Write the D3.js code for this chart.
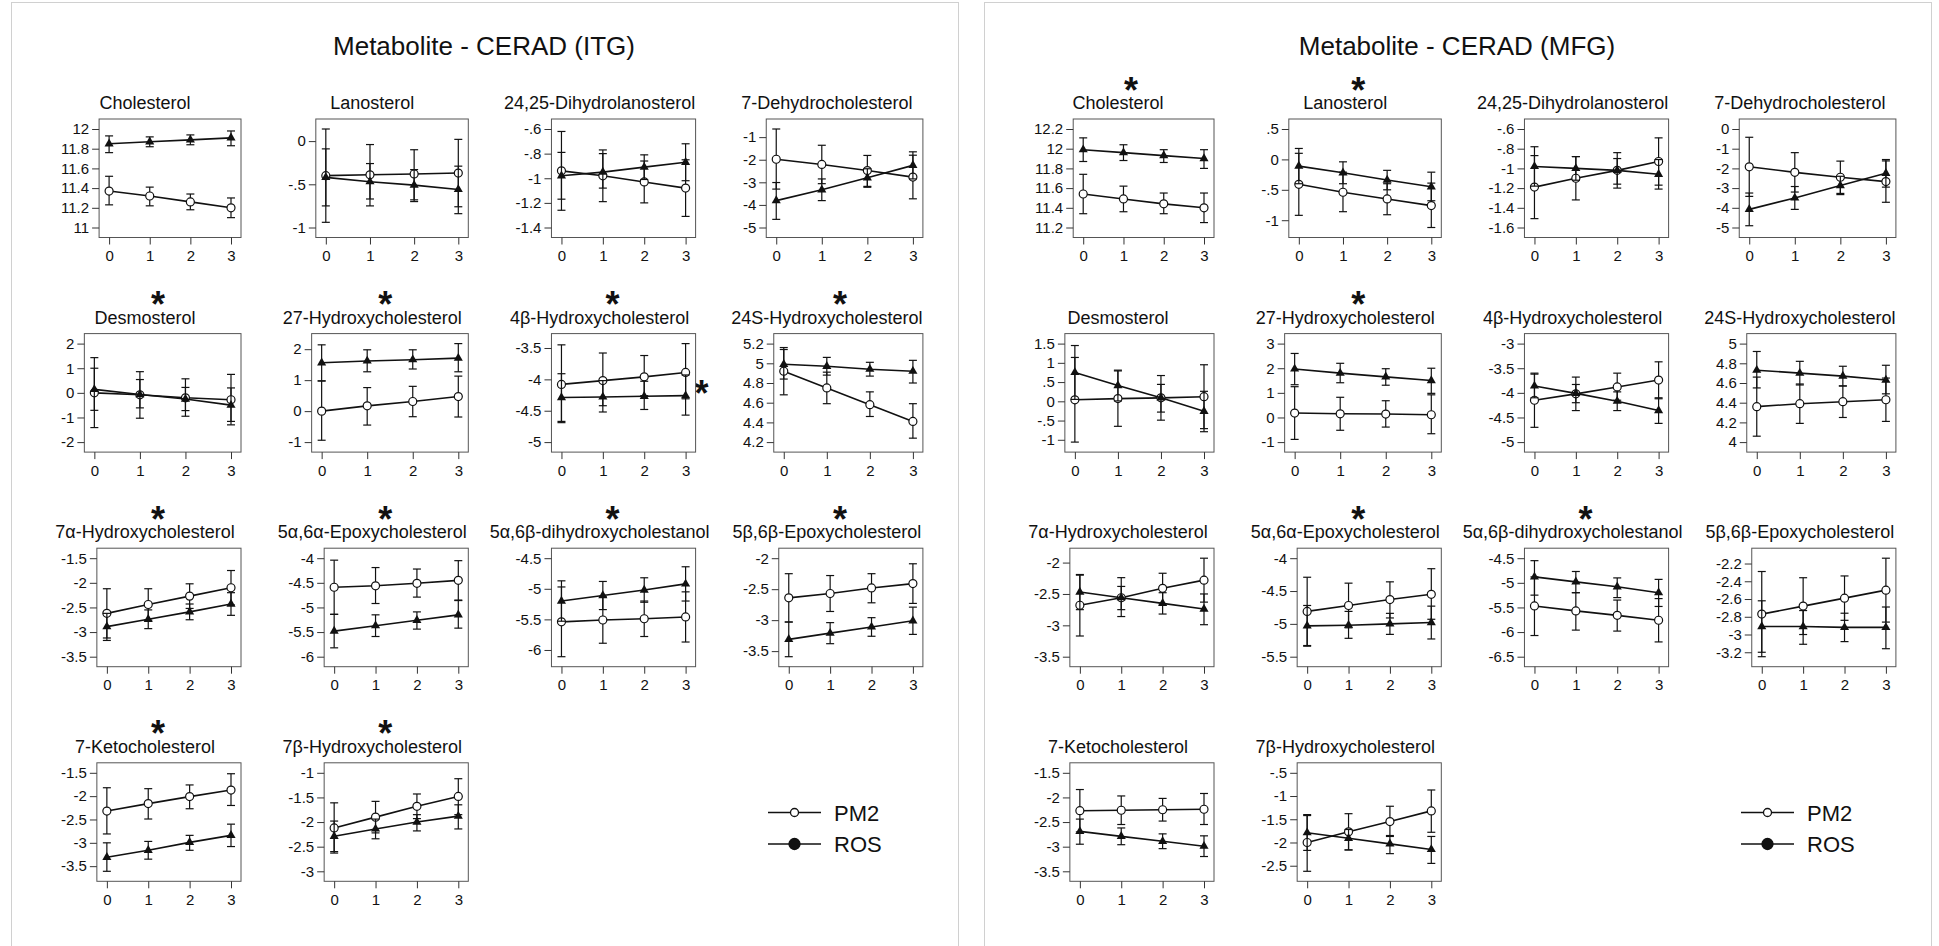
<!DOCTYPE html>
<html>
<head>
<meta charset="utf-8">
<script src="https://cdn.jsdelivr.net/npm/d3@7"></script>
<style>
  body { margin: 0; background: #fff; }
  svg { font-family: "Liberation Sans", Arial, Helvetica, sans-serif; }
</style>
</head>
<body>
<div id="chart"></div>
<script>
// ---- data ----
var metabolites = ["Cholesterol", "Lanosterol", "24,25-Dihydrolanosterol", "7-Dehydrocholesterol",
  "Desmosterol", "27-Hydroxycholesterol", "4β-Hydroxycholesterol", "24S-Hydroxycholesterol",
  "7α-Hydroxycholesterol", "5α,6α-Epoxycholesterol", "5α,6β-dihydroxycholestanol", "5β,6β-Epoxycholesterol",
  "7-Ketocholesterol", "7β-Hydroxycholesterol"];
var timePoints = [0, 1, 2, 3];
var seriesNames = ["PM2", "ROS"];

// ITG
var itgStars = [4, 5, 6, 7, 8, 9, 10, 11, 12, 13];
var itgSideStars = [6];
var itgTicks = [
  [11, 11.2, 11.4, 11.6, 11.8, 12], [-1, -0.5, 0], [-1.4, -1.2, -1, -0.8, -0.6], [-5, -4, -3, -2, -1],
  [-2, -1, 0, 1, 2], [-1, 0, 1, 2], [-5, -4.5, -4, -3.5], [4.2, 4.4, 4.6, 4.8, 5, 5.2],
  [-3.5, -3, -2.5, -2, -1.5], [-6, -5.5, -5, -4.5, -4], [-6, -5.5, -5, -4.5], [-3.5, -3, -2.5, -2],
  [-3.5, -3, -2.5, -2, -1.5], [-3, -2.5, -2, -1.5, -1]
];
var itgPm2Mean = [
  [11.37, 11.32, 11.26, 11.20], [-0.40, -0.39, -0.38, -0.37], [-0.94, -0.98, -1.03, -1.08], [-1.98, -2.21, -2.48, -2.77],
  [0.0, -0.08, -0.20, -0.28], [0.0, 0.17, 0.31, 0.47], [-4.08, -4.02, -3.96, -3.89], [4.92, 4.75, 4.58, 4.41],
  [-2.62, -2.44, -2.27, -2.10], [-4.59, -4.56, -4.51, -4.45], [-5.54, -5.51, -5.49, -5.46], [-2.64, -2.57, -2.48, -2.41],
  [-2.32, -2.16, -2.01, -1.87], [-2.12, -1.90, -1.68, -1.48]
];
var itgPm2Lo = [
  [11.23, 11.22, 11.18, 11.10], [-0.94, -0.75, -0.68, -0.76], [-1.26, -1.19, -1.20, -1.31], [-3.30, -3.06, -3.18, -3.73],
  [-1.41, -1.03, -0.95, -1.30], [-0.94, -0.45, -0.18, -0.19], [-4.69, -4.42, -4.26, -4.31], [4.68, 4.59, 4.46, 4.24],
  [-3.12, -2.76, -2.52, -2.45], [-5.14, -4.92, -4.79, -4.85], [-6.11, -5.89, -5.78, -5.87], [-3.03, -2.86, -2.72, -2.73],
  [-2.81, -2.49, -2.27, -2.20], [-2.63, -2.22, -1.93, -1.85]
];
var itgPm2Hi = [
  [11.52, 11.41, 11.34, 11.30], [0.14, -0.04, -0.10, 0.02], [-0.62, -0.77, -0.86, -0.85], [-0.64, -1.36, -1.81, -1.80],
  [1.43, 0.86, 0.57, 0.75], [0.97, 0.76, 0.80, 1.13], [-3.45, -3.58, -3.62, -3.43], [5.16, 4.91, 4.71, 4.59],
  [-2.12, -2.12, -2.02, -1.75], [-4.04, -4.19, -4.22, -4.05], [-4.97, -5.13, -5.20, -5.05], [-2.25, -2.28, -2.25, -2.09],
  [-1.82, -1.84, -1.76, -1.52], [-1.61, -1.58, -1.43, -1.12]
];
var itgRosMean = [
  [11.85, 11.87, 11.89, 11.91], [-0.42, -0.47, -0.51, -0.56], [-0.98, -0.95, -0.91, -0.87], [-3.81, -3.33, -2.80, -2.25],
  [0.14, -0.07, -0.25, -0.50], [1.56, 1.62, 1.66, 1.71], [-4.29, -4.28, -4.27, -4.26], [4.99, 4.97, 4.94, 4.92],
  [-2.89, -2.74, -2.59, -2.43], [-5.48, -5.37, -5.26, -5.15], [-5.20, -5.11, -5.02, -4.92], [-3.31, -3.21, -3.11, -3.01],
  [-3.31, -3.16, -2.99, -2.84], [-2.29, -2.14, -2.00, -1.88]
];
var itgRosLo = [
  [11.76, 11.82, 11.84, 11.83], [-0.75, -0.67, -0.70, -0.84], [-1.17, -1.08, -1.01, -1.02], [-4.64, -3.81, -3.22, -2.85],
  [-0.71, -0.61, -0.72, -1.16], [0.98, 1.27, 1.36, 1.27], [-4.67, -4.52, -4.48, -4.57], [4.84, 4.88, 4.87, 4.80],
  [-3.17, -2.93, -2.75, -2.66], [-5.82, -5.59, -5.44, -5.42], [-5.53, -5.34, -5.22, -5.20], [-3.59, -3.38, -3.26, -3.23],
  [-3.61, -3.35, -3.16, -3.08], [-2.60, -2.34, -2.18, -2.14]
];
var itgRosHi = [
  [11.93, 11.92, 11.94, 11.98], [-0.09, -0.26, -0.33, -0.29], [-0.79, -0.80, -0.81, -0.72], [-3.01, -2.85, -2.40, -1.65],
  [1.00, 0.54, 0.22, 0.20], [2.14, 1.98, 1.98, 2.18], [-3.91, -4.02, -4.03, -3.93], [5.14, 5.06, 5.01, 5.03],
  [-2.62, -2.55, -2.43, -2.20], [-5.14, -5.15, -5.09, -4.86], [-4.87, -4.88, -4.82, -4.64], [-3.03, -3.04, -2.96, -2.79],
  [-3.00, -2.97, -2.84, -2.60], [-1.98, -1.94, -1.85, -1.65]
];

// MFG
var mfgStars = [0, 1, 5, 9, 10];
var mfgSideStars = [];
var mfgTicks = [
  [11.2, 11.4, 11.6, 11.8, 12, 12.2], [-1, -0.5, 0, 0.5], [-1.6, -1.4, -1.2, -1, -0.8, -0.6], [-5, -4, -3, -2, -1, 0],
  [-1, -0.5, 0, 0.5, 1, 1.5], [-1, 0, 1, 2, 3], [-5, -4.5, -4, -3.5, -3], [4, 4.2, 4.4, 4.6, 4.8, 5],
  [-3.5, -3, -2.5, -2], [-5.5, -5, -4.5, -4], [-6.5, -6, -5.5, -5, -4.5], [-3.2, -3, -2.8, -2.6, -2.4, -2.2],
  [-3.5, -3, -2.5, -2, -1.5], [-2.5, -2, -1.5, -1, -0.5]
];
var mfgPm2Mean = [
  [11.54, 11.49, 11.44, 11.40], [-0.41, -0.54, -0.65, -0.76], [-1.19, -1.10, -1.02, -0.93], [-1.92, -2.20, -2.45, -2.67],
  [0.04, 0.07, 0.09, 0.12], [0.18, 0.15, 0.14, 0.11], [-4.15, -4.02, -3.88, -3.74], [4.36, 4.39, 4.41, 4.43],
  [-2.68, -2.56, -2.41, -2.28], [-4.81, -4.72, -4.63, -4.55], [-5.47, -5.57, -5.66, -5.76], [-2.77, -2.68, -2.59, -2.50],
  [-2.27, -2.26, -2.25, -2.24], [-2.00, -1.77, -1.55, -1.32]
];
var mfgPm2Lo = [
  [11.34, 11.36, 11.34, 11.25], [-0.92, -0.86, -0.91, -1.12], [-1.51, -1.32, -1.20, -1.17], [-3.42, -3.20, -3.27, -3.72],
  [-1.06, -0.65, -0.49, -0.71], [-0.89, -0.52, -0.39, -0.66], [-4.70, -4.36, -4.15, -4.12], [4.06, 4.19, 4.25, 4.21],
  [-3.17, -2.86, -2.66, -2.63], [-5.33, -5.06, -4.91, -4.93], [-6.07, -5.96, -5.98, -6.20], [-3.25, -3.00, -2.84, -2.86],
  [-2.70, -2.55, -2.48, -2.55], [-2.62, -2.16, -1.87, -1.78]
];
var mfgPm2Hi = [
  [11.74, 11.62, 11.55, 11.55], [0.10, -0.21, -0.40, -0.39], [-0.87, -0.88, -0.84, -0.69], [-0.42, -1.20, -1.63, -1.62],
  [1.14, 0.79, 0.67, 0.95], [1.25, 0.82, 0.68, 0.92], [-3.60, -3.68, -3.60, -3.37], [4.66, 4.59, 4.57, 4.65],
  [-2.19, -2.24, -2.17, -1.93], [-4.29, -4.38, -4.36, -4.16], [-4.88, -5.20, -5.35, -5.32], [-2.29, -2.36, -2.34, -2.14],
  [-1.84, -1.97, -2.02, -1.92], [-1.40, -1.38, -1.22, -0.87]
];
var mfgRosMean = [
  [11.99, 11.96, 11.93, 11.90], [-0.11, -0.22, -0.34, -0.45], [-0.98, -1.00, -1.02, -1.06], [-4.08, -3.50, -2.87, -2.25],
  [0.75, 0.41, 0.09, -0.26], [1.97, 1.80, 1.65, 1.50], [-3.86, -4.01, -4.17, -4.36], [4.73, 4.70, 4.67, 4.63],
  [-2.47, -2.56, -2.65, -2.74], [-5.03, -5.02, -5.00, -4.98], [-4.88, -4.98, -5.08, -5.20], [-2.91, -2.91, -2.92, -2.92],
  [-2.69, -2.79, -2.89, -2.99], [-1.79, -1.91, -2.03, -2.15]
];
var mfgRosLo = [
  [11.87, 11.88, 11.86, 11.80], [-0.40, -0.40, -0.50, -0.68], [-1.18, -1.12, -1.16, -1.21], [-4.91, -4.08, -3.33, -2.95],
  [0.05, 0.01, -0.28, -0.79], [1.33, 1.41, 1.31, 0.98], [-4.10, -4.20, -4.36, -4.62], [4.55, 4.58, 4.57, 4.49],
  [-2.75, -2.75, -2.82, -2.99], [-5.34, -5.22, -5.16, -5.23], [-5.25, -5.20, -5.30, -5.48], [-3.20, -3.11, -3.08, -3.16],
  [-2.95, -2.96, -3.04, -3.20], [-2.17, -2.16, -2.24, -2.45]
];
var mfgRosHi = [
  [12.11, 12.04, 11.99, 11.99], [0.18, -0.04, -0.18, -0.21], [-0.78, -0.88, -0.90, -0.91], [-3.25, -2.92, -2.40, -1.55],
  [1.45, 0.81, 0.44, 0.26], [2.60, 2.20, 1.98, 2.00], [-3.62, -3.83, -3.98, -4.10], [4.92, 4.82, 4.77, 4.78],
  [-2.20, -2.38, -2.48, -2.50], [-4.72, -4.81, -4.84, -4.73], [-4.55, -4.77, -4.90, -4.93], [-2.62, -2.73, -2.76, -2.69],
  [-2.44, -2.62, -2.74, -2.78], [-1.42, -1.72, -1.85, -1.87]
];

// ---- layout ----
var width = 1939, height = 946;
var ink = "#111";

var regions = [
  {title: "Metabolite - CERAD (ITG)", dx: 0, ticks: itgTicks, stars: itgStars, side: itgSideStars,
   pm2: [itgPm2Mean, itgPm2Lo, itgPm2Hi], ros: [itgRosMean, itgRosLo, itgRosHi]},
  {title: "Metabolite - CERAD (MFG)", dx: 973, ticks: mfgTicks, stars: mfgStars, side: mfgSideStars,
   pm2: [mfgPm2Mean, mfgPm2Lo, mfgPm2Hi], ros: [mfgRosMean, mfgRosLo, mfgRosHi]}
];

var svg = d3.select("#chart").append("svg")
    .attr("width", width)
    .attr("height", height);

svg.append("rect").attr("width", width).attr("height", height).attr("fill", "#fff");

// stata style labels: drop the leading zero
function fmt(v) {
    return String(+v.toFixed(2)).replace(/^(-?)0\./, "$1.");
}

// measure label widths
var probe = svg.append("text").attr("font-size", 15).attr("x", -100).attr("y", -100);
function measure(s) {
    probe.text(s);
    return probe.node().getComputedTextLength();
}

regions.forEach(function(reg) {
    var g = svg.append("g");

    // panel frame
    g.append("rect")
        .attr("x", reg.dx + 11.5).attr("y", 2.5)
        .attr("width", 947).attr("height", 980)
        .attr("fill", "none").attr("stroke", "#d0d0d0").attr("stroke-width", 1);

    g.append("text")
        .attr("x", reg.dx + 484).attr("y", 55)
        .attr("text-anchor", "middle")
        .attr("font-size", 26)
        .attr("fill", ink)
        .text(reg.title);

    metabolites.forEach(function(name, i) {
        drawPanel(g, reg, i, name);
    });

    // legend
    var lg = g.append("g").attr("transform", "translate(" + (reg.dx + 768) + ",812.5)");
    seriesNames.forEach(function(s, k) {
        var row = lg.append("g").attr("transform", "translate(0," + (k * 31.5) + ")");
        row.append("line").attr("x1", 0).attr("x2", 53).attr("y1", 0).attr("y2", 0)
            .attr("stroke", ink).attr("stroke-width", 1.6);
        row.append("circle").attr("cx", 26.5).attr("cy", 0).attr("r", k === 0 ? 4 : 5.5)
            .attr("fill", k === 0 ? "#fff" : ink).attr("stroke", ink).attr("stroke-width", 1.3);
        row.append("text").attr("x", 66).attr("y", 8)
            .attr("font-size", 22).attr("fill", ink).text(s);
    });
});

probe.remove();

function drawPanel(g, reg, i, name) {
    var col = i % 4, row = Math.floor(i / 4);
    var right = reg.dx + 241 + col * 227.3;
    var top = 119 + row * 214.6, bottom = top + 118.5;
    var ticks = reg.ticks[i];

    var labW = d3.max(ticks, function(t) { return measure(fmt(t)); });
    var left = right - 180 + labW + 10;

    var all = ticks.concat(reg.pm2[1][i], reg.pm2[2][i], reg.ros[1][i], reg.ros[2][i]);
    var y = d3.scaleLinear().domain(d3.extent(all)).range([bottom - 10, top + 10]);
    var x = d3.scaleLinear().domain([0, 3]).range([left + 10, right - 10]);

    var p = g.append("g");

    // title + stars
    p.append("text")
        .attr("x", right - 96).attr("y", top - 10)
        .attr("text-anchor", "middle")
        .attr("font-size", 18).attr("fill", ink)
        .text(name);

    if (reg.stars.indexOf(i) >= 0) {
        p.append("text")
            .attr("x", right - 83).attr("y", top - 16.5)
            .attr("text-anchor", "middle")
            .attr("font-size", 36).attr("font-weight", "bold").attr("fill", ink)
            .text("*");
    }
    if (reg.side.indexOf(i) >= 0) {
        p.append("text")
            .attr("x", right + 6).attr("y", top + 72)
            .attr("text-anchor", "middle")
            .attr("font-size", 36).attr("font-weight", "bold").attr("fill", ink)
            .text("*");
    }

    // plot region box
    p.append("rect")
        .attr("x", left).attr("y", top)
        .attr("width", right - left).attr("height", bottom - top)
        .attr("fill", "#fff").attr("stroke", "#555").attr("stroke-width", 1);

    // axes
    var ya = p.append("g")
        .attr("transform", "translate(" + left + ",0)")
        .call(d3.axisLeft(y).tickValues(ticks).tickSize(7).tickPadding(3).tickFormat(fmt));
    var xa = p.append("g")
        .attr("transform", "translate(0," + bottom + ")")
        .call(d3.axisBottom(x).tickValues(timePoints).tickSize(7).tickPadding(6).tickFormat(d3.format("d")));
    [ya, xa].forEach(function(a) {
        a.attr("font-family", null).attr("font-size", 15);
        a.select(".domain").remove();
        a.selectAll(".tick line").attr("stroke", "#333");
        a.selectAll(".tick text").attr("fill", ink);
    });

    // series
    var line = d3.line()
        .x(function(d, j) { return x(timePoints[j]); })
        .y(function(d) { return y(d); });

    [reg.pm2, reg.ros].forEach(function(ser, k) {
        var mean = ser[0][i], lo = ser[1][i], hi = ser[2][i];
        var sg = p.append("g");

        sg.append("path")
            .attr("d", line(mean))
            .attr("fill", "none").attr("stroke", ink).attr("stroke-width", 1.6);

        timePoints.forEach(function(t, j) {
            var cx = x(t);
            sg.append("line")
                .attr("x1", cx).attr("x2", cx)
                .attr("y1", y(lo[j])).attr("y2", y(hi[j]))
                .attr("stroke", ink).attr("stroke-width", 1.2);
            [lo[j], hi[j]].forEach(function(v) {
                sg.append("line")
                    .attr("x1", cx - 4).attr("x2", cx + 4)
                    .attr("y1", y(v)).attr("y2", y(v))
                    .attr("stroke", ink).attr("stroke-width", 1.2);
            });
        });

        if (k === 0) {
            sg.selectAll("circle").data(mean).enter().append("circle")
                .attr("cx", function(d, j) { return x(timePoints[j]); })
                .attr("cy", function(d) { return y(d); })
                .attr("r", 4)
                .attr("fill", "#fff").attr("stroke", ink).attr("stroke-width", 1.2);
        } else {
            sg.selectAll("path.mk").data(mean).enter().append("path")
                .attr("class", "mk")
                .attr("d", d3.symbol(d3.symbolTriangle, 36))
                .attr("transform", function(d, j) {
                    return "translate(" + x(timePoints[j]) + "," + y(d) + ")";
                })
                .attr("fill", ink);
        }
    });
}
</script>
</body>
</html>
